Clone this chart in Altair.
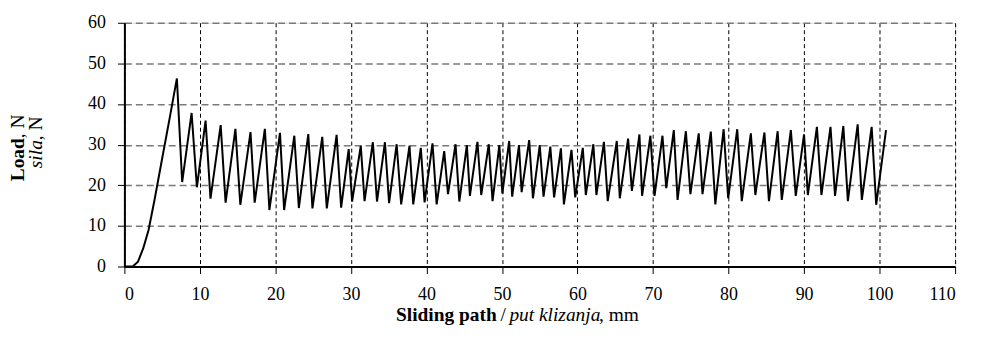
import altair as alt
import pandas as pd

# Sliding path (mm) and load (N)
path_mm = [0, 1.1, 1.8, 2.5, 3.2, 4.0, 5.0, 6.0, 6.95, 7.65, 8.9, 9.6, 10.75, 11.4, 12.75, 13.4,
           14.7, 15.35, 16.7, 17.25, 18.6, 19.2, 20.6, 21.15, 22.5, 23.1, 24.35, 24.9, 26.2, 26.8,
           28.1, 28.7, 29.7, 30.15, 31.3, 31.8, 32.9, 33.45, 34.5, 35.05, 36.05, 36.65, 37.75, 38.25,
           39.25, 39.75, 40.8, 41.35, 42.35, 42.85, 43.85, 44.35, 45.35, 45.75, 46.75, 47.25, 48.25,
           48.75, 49.65, 50.05, 50.95, 51.35, 52.25, 52.6, 53.6, 54.1, 55.0, 55.5, 56.4, 56.9, 57.8,
           58.2, 59.2, 59.7, 60.7, 61.1, 62.1, 62.5, 63.5, 64.0, 65.2, 65.6, 66.7, 67.2, 68.2, 68.55,
           69.65, 70.2, 71.25, 71.75, 72.75, 73.25, 74.35, 74.95, 76.05, 76.55, 77.65, 78.25, 79.35,
           79.95, 81.15, 81.75, 82.95, 83.55, 84.75, 85.35, 86.5, 87.05, 88.25, 88.9, 90.0, 90.5,
           91.7, 92.3, 93.5, 94.1, 95.2, 95.8, 97.1, 97.65, 98.95, 99.55, 100.85]
load_n = [0, 0, 1.2, 4.5, 9.0, 16.5, 26.6, 36.6, 46.3, 20.8, 37.8, 19.5, 35.9, 16.7, 34.8, 15.7,
          33.9, 15.2, 33.1, 15.7, 33.9, 13.9, 32.9, 13.9, 32.2, 14.4, 32.6, 14.3, 31.9, 14.3,
          32.4, 14.5, 28.9, 16.0, 29.7, 16.1, 30.6, 16.0, 30.6, 15.6, 30.1, 15.3, 29.7, 15.3,
          29.2, 15.8, 30.3, 15.3, 28.4, 17.8, 30.1, 16.0, 29.9, 17.4, 30.7, 17.6, 30.1,
          16.1, 29.9, 18.0, 30.9, 17.2, 29.9, 18.3, 31.1, 16.8, 29.9, 17.2, 29.5, 17.0, 29.1,
          15.3, 28.7, 17.0, 29.2, 17.6, 30.1, 17.6, 30.7, 16.1, 30.9, 16.8, 31.5, 18.6, 32.5, 17.4,
          32.2, 17.4, 32.2, 19.3, 33.6, 16.4, 33.3, 17.8, 32.8, 17.8, 33.2, 15.3, 33.8,
          16.8, 33.8, 16.1, 32.8, 17.6, 33.0, 16.1, 33.3, 16.4, 33.6, 17.4, 32.5, 17.6,
          34.4, 17.6, 34.4, 17.4, 34.6, 16.1, 35.0, 16.4, 34.4, 15.2, 33.6]

x_ticks = [0, 10, 20, 30, 40, 50, 60, 70, 80, 90, 100, 110]
y_ticks = [0, 10, 20, 30, 40, 50, 60]

FONT = "Liberation Serif"
FS = 18
TFS = 19.5

df = pd.DataFrame({"path": path_mm, "load": load_n})

x_enc = alt.X("path:Q", scale=alt.Scale(domain=[0, 110], nice=False),
              axis=alt.Axis(values=x_ticks, title="", grid=True, gridColor="#000000",
                            gridDash=[4, 3], gridWidth=1, domainColor="#000000", domainWidth=2,
                            tickColor="#000000", tickSize=7, tickWidth=1, labelPadding=12,
                            labelFont=FONT, labelFontSize=FS, labelColor="#000000"))
y_enc = alt.Y("load:Q", scale=alt.Scale(domain=[0, 60], nice=False),
              axis=alt.Axis(values=y_ticks, title="", grid=True, gridColor="#7a7a7a",
                            gridDash=[7, 4], gridWidth=1.5, domainColor="#000000", domainWidth=2,
                            tickColor="#000000", tickSize=7, tickWidth=1, labelPadding=12,
                            labelFont=FONT, labelFontSize=FS, labelColor="#000000"))

line = alt.Chart(df).mark_line(color="#000000", strokeWidth=2).encode(x=x_enc, y=y_enc)

one = pd.DataFrame({"t": [""]})

def txt(s, x, y, weight="normal", style="normal", align="left", angle=0):
    return alt.Chart(one).mark_text(
        text=s, font=FONT, fontSize=TFS, fontWeight=weight, fontStyle=style,
        align=align, baseline="middle", angle=angle, color="#000000"
    ).encode(x=alt.value(x), y=alt.value(y))

titles = [
    txt("Sliding path", 273, 294, weight="bold"),
    txt("/", 378, 294),
    txt("put klizanja", 387, 294, style="italic"),
    txt(", mm", 477, 294),
    txt("Load", -107, 116, weight="bold", align="right", angle=270),
    txt(", N", -107, 116, align="left", angle=270),
    txt("sila", -89, 118, style="italic", align="right", angle=270),
    txt(", N", -89, 118, align="left", angle=270),
]

chart = alt.layer(line, *titles).properties(
    width=835, height=245,
    autosize=alt.AutoSizeParams(type="none"),
    padding={"left": 117, "top": 14, "right": 20, "bottom": 70},
).configure_view(stroke="#7a7a7a", strokeWidth=1.5).configure(background="white").configure_axis(
    labelFont=FONT, labelFontSize=FS, labelColor="#000000")

chart.save("out.html", embed_options={"renderer": "svg", "actions": False})
